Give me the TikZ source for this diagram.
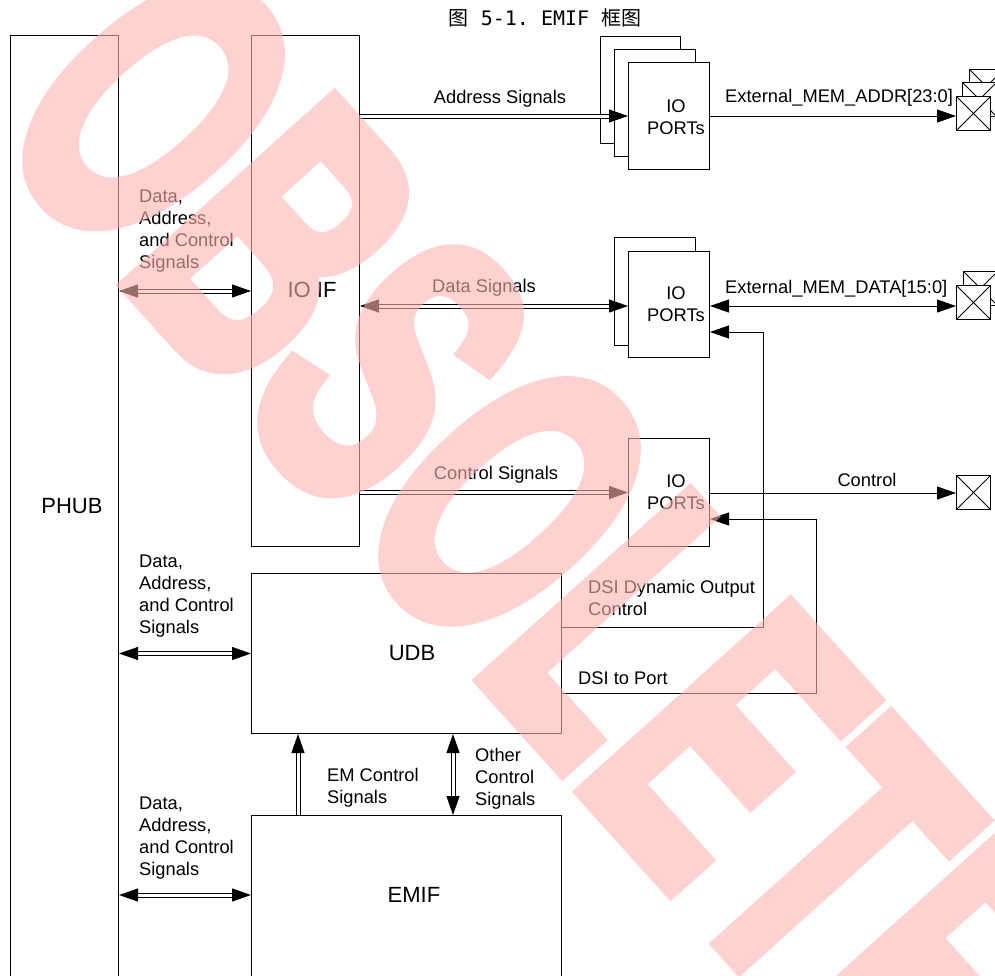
\documentclass[tikz,border=0pt]{standalone}
\usepackage{fontspec}
\setmainfont{Liberation Sans}
\newfontfamily\cjkfont{Noto Sans CJK SC}
\newfontfamily\titlemono{DejaVu Sans Mono}
\newfontfamily\wmfont[FakeBold=4]{Liberation Sans Bold}
\usetikzlibrary{arrows.meta}
\definecolor{wmred}{RGB}{255,180,180}
\begin{document}
\begin{tikzpicture}[x=1pt,y=-1pt,
  box/.style={draw, line width=1pt, fill=white, inner sep=0pt, anchor=north west},
  pad/.style={draw, line width=1pt, fill=white, inner sep=0pt, anchor=north west,
    minimum width=34pt, minimum height=34pt,
    path picture={\draw[line width=1pt] (path picture bounding box.north west) -- (path picture bounding box.south east)
      (path picture bounding box.north east) -- (path picture bounding box.south west);}},
  lbl/.style={font=\fontsize{18.3}{22}\selectfont, inner sep=0pt},
  big/.style={font=\fontsize{22}{26}\selectfont, inner sep=0pt},
  arr/.style={line width=1pt, -{Triangle[length=19pt,width=13pt]}},
  biarr/.style={line width=1pt, {Triangle[length=19pt,width=13pt]}-{Triangle[length=19pt,width=13pt]}},
  dbl/.style={double, double distance=3pt, line width=1pt},
]
\useasboundingbox (0,0) rectangle (995,975);
\fill[white] (0,0) rectangle (995,975);
\clip (0,0) rectangle (995,975);

% title
\node[inner sep=0pt, anchor=base, font=\fontsize{20}{24}\selectfont] (title) at (545,25)
  {{\cjkfont 图}{\titlemono\ 5-1.\ EMIF\ }{\cjkfont 框图}};

% main blocks
\node[box, minimum width=108pt, minimum height=960pt] (phub) at (10,35) {};
\node[box, minimum width=108pt, minimum height=511pt] (ioif) at (251,35) {};
\node[box, minimum width=310pt, minimum height=160pt] (udb) at (251,573) {};
\node[box, minimum width=310pt, minimum height=180pt] (emif) at (251,815) {};

% IO port stacks
\node[box, minimum width=80pt, minimum height=107pt] (pa3) at (600,36) {};
\node[box, minimum width=81pt, minimum height=107pt] (pa2) at (614,49) {};
\node[box, minimum width=81pt, minimum height=107pt] (pa1) at (628,62) {};
\node[box, minimum width=81pt, minimum height=108pt] (pd2) at (614,237) {};
\node[box, minimum width=81pt, minimum height=106pt] (pd1) at (628,251) {};
\node[box, minimum width=81pt, minimum height=108pt] (pc) at (628,438) {};

% pads
\node[pad] (ka3) at (969,69) {};
\node[pad] (ka2) at (962,82) {};
\node[pad] (ka1) at (956,96) {};
\node[pad] (kd2) at (963,271) {};
\node[pad] (kd1) at (956,285) {};
\node[pad] (kc) at (956,475) {};

% block labels
\node[big, anchor=base] (tphub) at (72,513) {PHUB};
\node[big, anchor=base] (tioif) at (312,297) {IO IF};
\node[big, anchor=base] (tudb) at (412,660) {UDB};
\node[big, anchor=base] (temif) at (414,902) {EMIF};
\node[lbl, anchor=north, align=center] (tpa) at (676,100) {IO\\PORTs};
\node[lbl, anchor=north, align=center] (tpd) at (676,287) {IO\\PORTs};
\node[lbl, anchor=north, align=center] (tpc) at (676,475) {IO\\PORTs};

% helper coordinates
\coordinate (rowA) at (0,116);
\coordinate (rowD) at (0,306);
\coordinate (rowC) at (0,493);
\coordinate (rowE) at (0,895);
\coordinate (colEM) at (298,0);
\coordinate (colOC) at (453,0);
\coordinate (rowDO) at (0,627);
\coordinate (bendDO) at (763,332);
\coordinate (rowDP) at (0,693);
\coordinate (bendDP) at (816,519);

% double connectors
\draw[dbl, biarr] (phub.east |- ioif.center) -- (ioif.west |- ioif.center);
\draw[dbl, biarr] (phub.east |- udb.west) -- (udb.west);
\draw[dbl, biarr] (phub.east |- rowE) -- (emif.west |- rowE);
\draw[dbl, arr] (ioif.east |- pa1.west) -- (pa1.west);
\draw[dbl, biarr] (ioif.east |- rowD) -- (pd1.west |- rowD);
\draw[dbl, arr] (ioif.east |- pc.west) -- (pc.west);
\draw[dbl, arr] (emif.north -| colEM) -- (udb.south -| colEM);
\draw[dbl, biarr] (emif.north -| colOC) -- (udb.south -| colOC);

% single connectors
\draw[arr] (pa1.east |- rowA) -- (ka1.west |- rowA);
\draw[biarr] (pd1.east |- rowD) -- (kd1.west |- rowD);
\draw[arr] (pc.east |- rowC) -- (kc.west |- rowC);
\draw[arr] (udb.east |- rowDO) -| (bendDO) -- (pd1.east |- bendDO);
\draw[arr] (udb.east |- rowDP) -| (bendDP) -- (pc.east |- bendDP);

% connector labels
\node[lbl, anchor=north west, align=left] (la) at (139,190) {Data,\\Address,\\and Control\\Signals};
\node[lbl, anchor=north west, align=left] (lb) at (139,555) {Data,\\Address,\\and Control\\Signals};
\node[lbl, anchor=north west, align=left] (lc) at (139,797) {Data,\\Address,\\and Control\\Signals};
\node[lbl, anchor=base] (laddr) at (500,103) {Address Signals};
\node[lbl, anchor=base] (ldata) at (484,292) {Data Signals};
\node[lbl, anchor=base] (lctl) at (496,479) {Control Signals};
\node[lbl, anchor=base west] (lext1) at (725,102) {External\_MEM\_ADDR[23:0]};
\node[lbl, anchor=base west] (lext2) at (725,293) {External\_MEM\_DATA[15:0]};
\node[lbl, anchor=base] (lcontrol) at (867,486) {Control};
\node[lbl, anchor=north west, align=left] (ldo) at (588,580) {DSI Dynamic Output\\Control};
\node[lbl, anchor=base west] (ldp) at (578,684) {DSI to Port};
\node[lbl, anchor=north west, align=left] (lem) at (327,768) {EM Control\\Signals};
\node[lbl, anchor=north west, align=left] (loc) at (475,748) {Other\\Control\\Signals};

% watermark
\begin{scope}[transparency group, opacity=0.6]
\node[rotate=-48, anchor=base west, inner sep=0pt, text=wmred,
  font=\fontsize{405}{405}\selectfont] (wmk) at (-14,129)
  {\scalebox{0.606}[1]{\wmfont OBSOLETE}};
\end{scope}
\end{tikzpicture}
\end{document}
